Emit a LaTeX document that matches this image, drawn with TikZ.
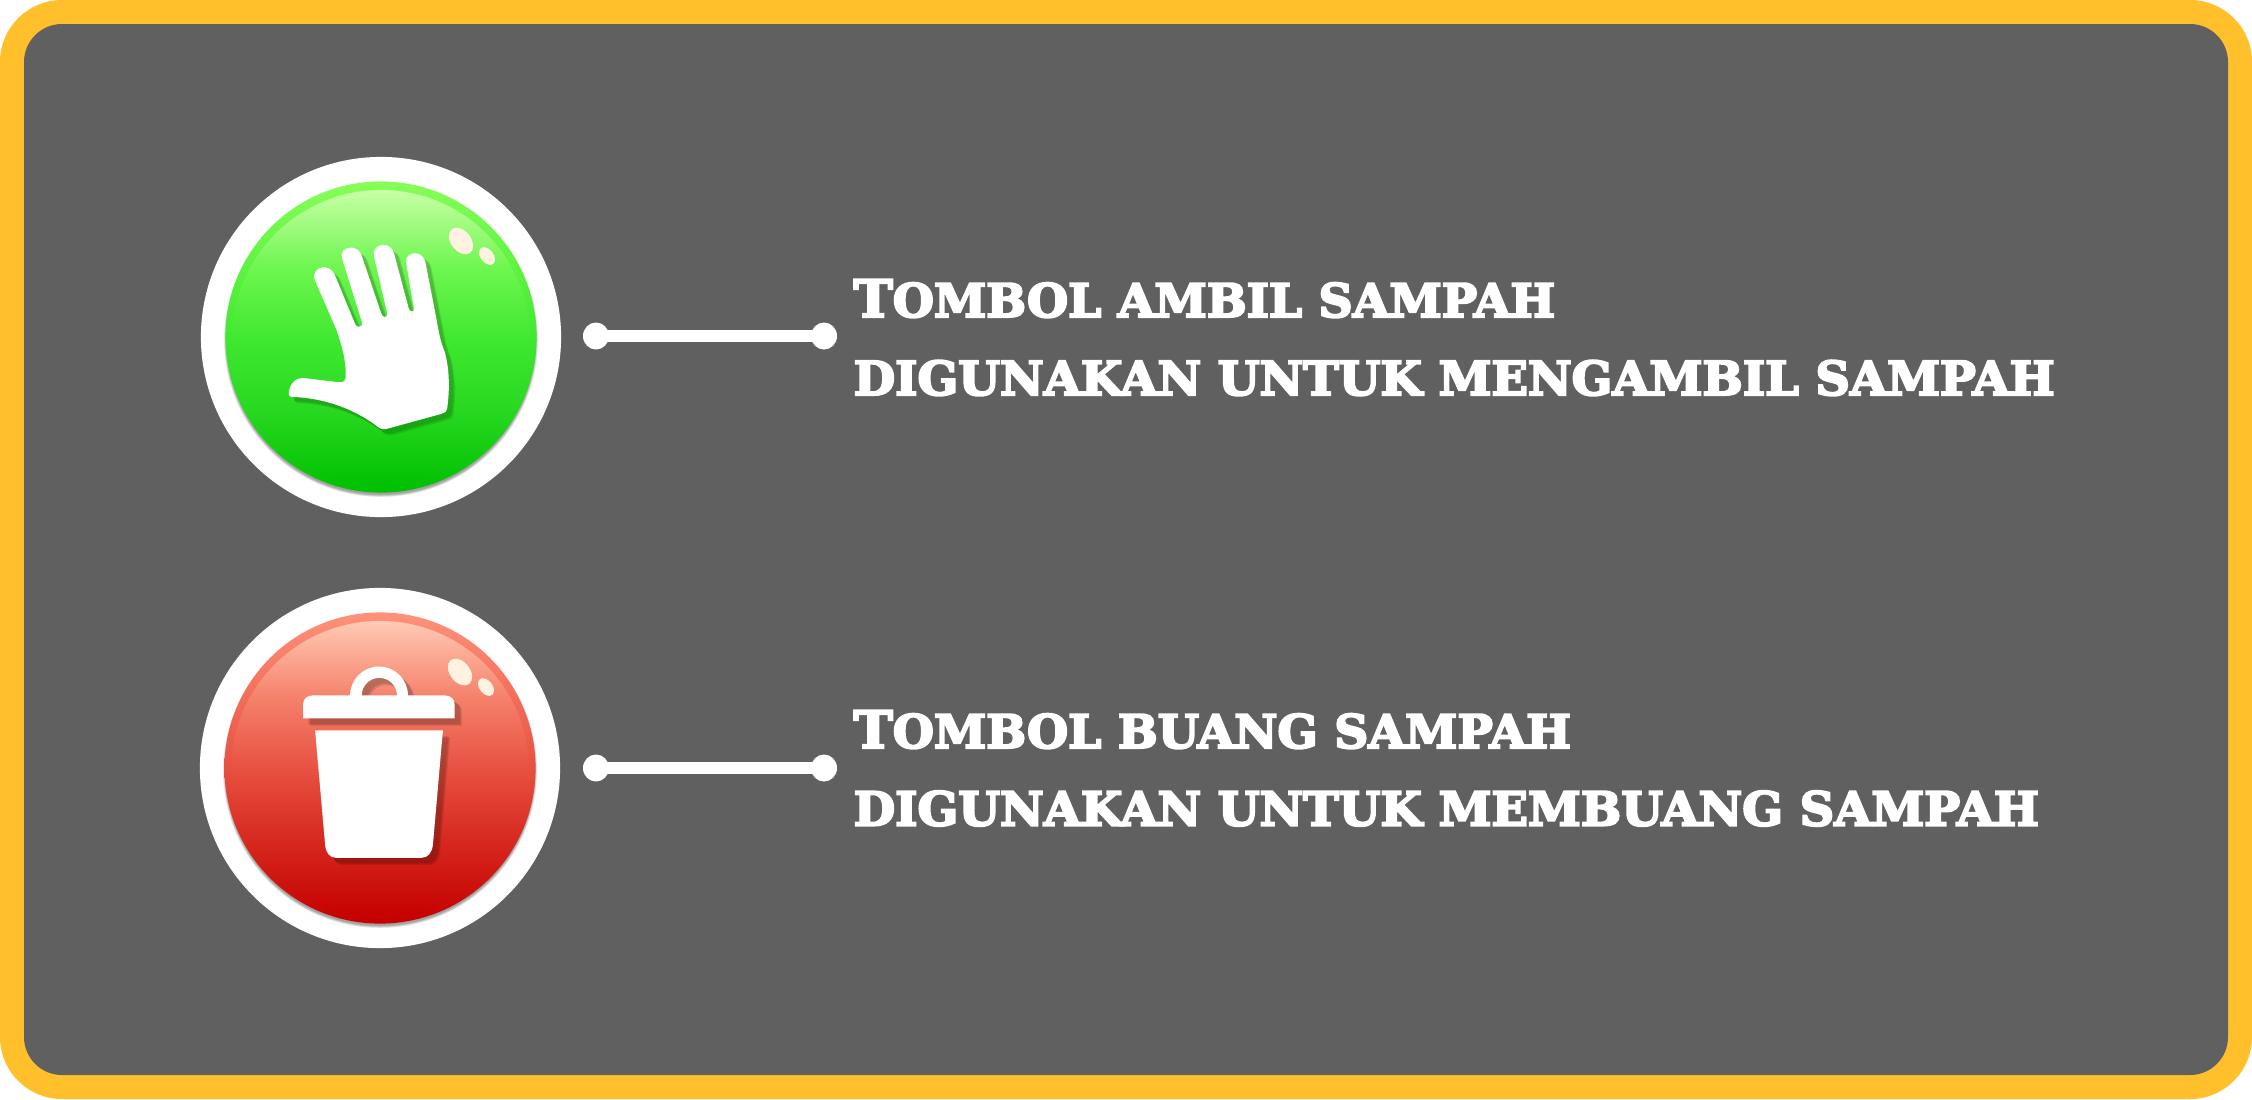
\documentclass[tikz,border=0pt]{standalone}
\usepackage{fontspec}
\usepackage{tikz}
\usetikzlibrary{shapes.geometric}
\newfontfamily\slabfont[BoldFeatures={FakeBold=4.5,FakeStretch=1.022}]{DejaVu Serif}
\definecolor{frameyellow}{HTML}{FFC02B}
\definecolor{paneldark}{HTML}{606060}
\definecolor{glintcream}{HTML}{FFF2E0}
\definecolor{greena}{HTML}{00C000}
\definecolor{greenb}{HTML}{28D820}
\definecolor{greenc}{HTML}{40E830}
\definecolor{greend}{HTML}{6EF650}
\definecolor{greene}{HTML}{86FF58}
\definecolor{greenf}{HTML}{C8FFA6}
\definecolor{reda}{HTML}{C50000}
\definecolor{redb}{HTML}{D6281E}
\definecolor{redc}{HTML}{E85040}
\definecolor{redd}{HTML}{F5806A}
\definecolor{rede}{HTML}{FF927A}
\definecolor{redf}{HTML}{FFCAB4}
% button shadings, the inner 25bp..75bp fall on the height of the circle
\pgfdeclareverticalshading{greenbase}{100bp}{color(0bp)=(greena); color(25bp)=(greena); color(38bp)=(greenb); color(50bp)=(greenc); color(75bp)=(greene); color(100bp)=(greene)}
\pgfdeclareverticalshading{greenglow}{100bp}{color(0bp)=(greena); color(25bp)=(greena); color(38bp)=(greenb); color(50bp)=(greenc); color(62bp)=(greend); color(75bp)=(greenf); color(100bp)=(greenf)}
\pgfdeclareverticalshading{redbase}{100bp}{color(0bp)=(reda); color(25bp)=(reda); color(38bp)=(redb); color(50bp)=(redc); color(75bp)=(rede); color(100bp)=(rede)}
\pgfdeclareverticalshading{redglow}{100bp}{color(0bp)=(reda); color(25bp)=(reda); color(38bp)=(redb); color(50bp)=(redc); color(62bp)=(redd); color(75bp)=(redf); color(100bp)=(redf)}
\tikzset{
  ringdisc/.style={circle,fill=white,inner sep=0pt,minimum size=3.6cm},
  basedisc/.style={circle,inner sep=0pt,minimum size=3.11cm},
  glowdisc/.style={circle,inner sep=0pt,minimum size=2.98cm},
  tipdot/.style={ellipse,fill=white,inner sep=0pt,minimum width=.26cm,minimum height=.27cm},
  tieline/.style={white,line width=.115cm,shorten >=-.05cm,shorten <=-.05cm},
  headtext/.style={anchor=base west,inner sep=0pt,text=white,font=\slabfont\bfseries\fontsize{13.3}{16}\selectfont},
  titletext/.style={headtext,font=\slabfont\bfseries\fontsize{13.15}{16}\selectfont},
  iconscope/.style={x=.003333cm,y=-.003333cm}
}
% icons, in coordinates of a crop of 1200 units across
\newcommand{\handicon}[1]{\fill[#1] (405,420) .. controls (398,400) and (412,382) .. (432,382) .. controls (448,382) and (460,393) .. (465,405) -- (525,550) .. controls (530,565) and (545,565) .. (548,552) -- (487,355) .. controls (480,338) and (495,323) .. (515,323) .. controls (530,323) and (541,335) .. (545,345) -- (605,522) .. controls (610,535) and (622,535) .. (623,522) -- (583,350) .. controls (578,330) and (592,315) .. (612,315) .. controls (628,315) and (640,328) .. (643,340) -- (687,505) .. controls (690,518) and (703,518) .. (703,508) -- (680,372) .. controls (675,352) and (690,340) .. (707,340) .. controls (722,340) and (733,352) .. (737,365) -- (772,545) .. controls (776,570) and (783,608) .. (795,635) .. controls (808,680) and (812,740) .. (803,805) .. controls (800,818) and (795,820) .. (785,823) -- (625,867) .. controls (610,870) and (603,870) .. (592,860) .. controls (540,820) and (450,775) .. (335,772) .. controls (325,770) and (325,760) .. (330,745) .. controls (338,725) and (350,715) .. (370,715) -- (480,728) .. controls (495,728) and (498,722) .. (498,700) .. controls (498,650) and (480,600) .. (470,570) -- cycle;}
\newcommand{\binicon}[1]{\fill[#1] (370,446) -- (370,402) .. controls (370,385) and (385,377) .. (398,377) -- (797,377) .. controls (812,377) and (825,387) .. (825,402) -- (825,446) -- cycle
    (511,377) arc (180:360:87) -- (652,377) arc (360:180:53) -- cycle
    (406,482) -- (790,482) -- (760,825) .. controls (757,850) and (745,865) .. (725,865) -- (470,865) .. controls (450,865) and (438,850) .. (436,825) -- cycle;}
\begin{document}
\begin{tikzpicture}[x=.01cm,y=-.01cm]
  \useasboundingbox (0,0) rectangle (2252,1099);
  \fill[frameyellow,rounded corners=.62cm] (0,0) rectangle (2252,1099);
  \fill[paneldark,rounded corners=.38cm] (24,24) rectangle (2228,1075);
  % take-rubbish button
  \node[ringdisc] (ambilring) at (381,337) {};
  \foreach \s in {0,1,...,5}
    \fill[black,opacity=.07] (381,340) circle (154.5+\s*.5);
  \node[basedisc,shading=greenbase] (ambilbase) at (381,337) {};
  \node[glowdisc,shading=greenglow] (ambilglow) at (381,339) {};
  \fill[glintcream,rotate around={-52:(461,241)}] (461,241) ellipse (15 and 10);
  \fill[glintcream,rotate around={-52:(487,256)}] (487,256) ellipse (10 and 6.5);
  \begin{scope}[shift={(180,140)},iconscope]
    \foreach \s in {13,16,19} {
      \begin{scope}[shift={(\s,\s)}]
        \handicon{black,opacity=.08}
      \end{scope}
    }
    \handicon{white}
  \end{scope}
  \node[tipdot] (ambilL) at (596,336) {};
  \node[tipdot] (ambilR) at (824,336) {};
  \draw[tieline] (ambilL) -- (ambilR);
  \node[titletext] (ambilA) at (853,317) {{\fontsize{14.6}{16}\selectfont T}OMBOL AMBIL SAMPAH};
  \node[headtext] (ambilB) at (853,395) {DIGUNAKAN UNTUK MENGAMBIL SAMPAH};
  % throw-rubbish button
  \node[ringdisc] (buangring) at (380,768) {};
  \foreach \s in {0,1,...,5}
    \fill[black,opacity=.07] (380,771) circle (154.5+\s*.5);
  \node[basedisc,shading=redbase] (buangbase) at (380,768) {};
  \node[glowdisc,shading=redglow] (buangglow) at (380,770) {};
  \fill[glintcream,rotate around={-52:(460,672)}] (460,672) ellipse (15 and 10);
  \fill[glintcream,rotate around={-52:(486,687)}] (486,687) ellipse (10 and 6.5);
  \begin{scope}[shift={(180,570)},iconscope]
    \foreach \s in {16,19,22} {
      \begin{scope}[shift={(\s,\s)}]
        \binicon{black,opacity=.09}
      \end{scope}
    }
    \binicon{white}
  \end{scope}
  \node[tipdot] (buangL) at (596,768) {};
  \node[tipdot] (buangR) at (824,768) {};
  \draw[tieline] (buangL) -- (buangR);
  \node[titletext] (buangA) at (853,748) {{\fontsize{14.6}{16}\selectfont T}OMBOL BUANG SAMPAH};
  \node[headtext] (buangB) at (853,825.5) {DIGUNAKAN UNTUK MEMBUANG SAMPAH};
\end{tikzpicture}
\end{document}
